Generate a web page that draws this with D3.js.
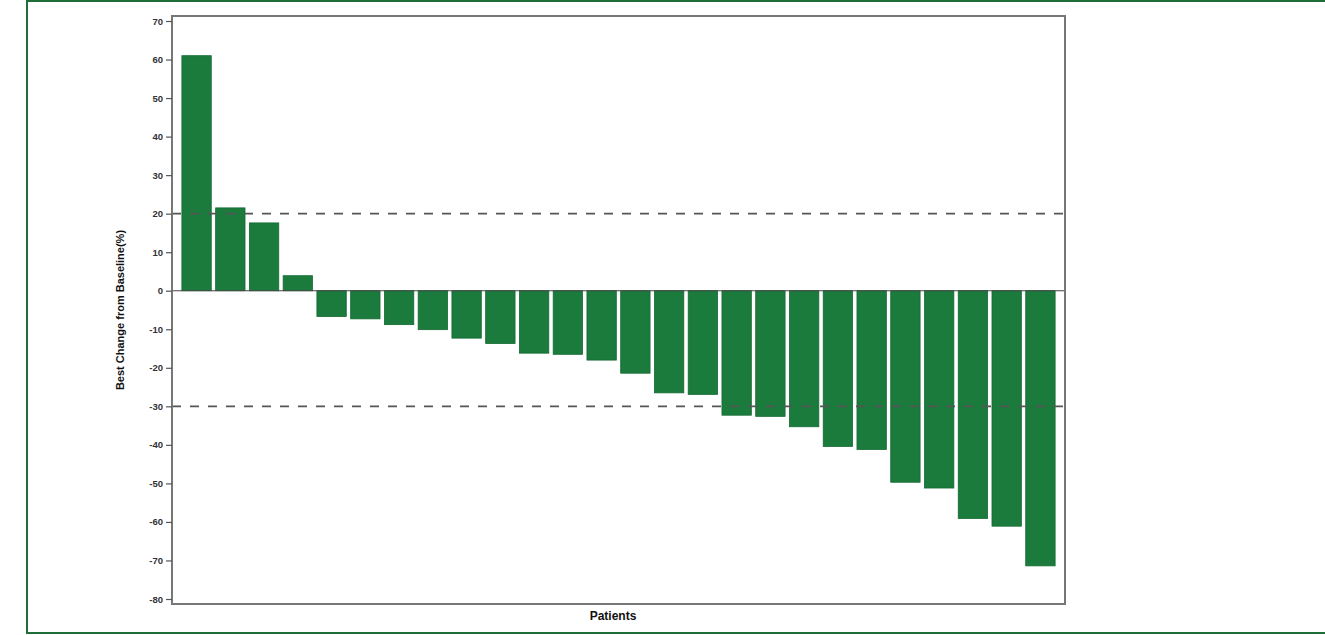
<!DOCTYPE html>
<html>
<head>
<meta charset="utf-8">
<script src="https://cdn.jsdelivr.net/npm/d3@7"></script>
<style>
  body { margin: 0; background: #fff; }
  svg { display: block; font-family: "Liberation Sans", Arial, sans-serif; }
</style>
</head>
<body>
<div id="chart"></div>
<script>
// Best change from baseline (%) per patient, sorted as in the waterfall
const patients = d3.range(1, 27).map(i => "P" + i);
const bestChange = [61, 21.5, 17.6, 3.9, -6.7, -7.3, -8.8, -10.1, -12.3, -13.7, -16.2, -16.5, -18.0,
  -21.4, -26.5, -26.9, -32.3, -32.6, -35.3, -40.4, -41.2, -49.7, -51.2, -59.1, -61.1, -71.4];
const yTicks = [70, 60, 50, 40, 30, 20, 10, 0, -10, -20, -30, -40, -50, -60, -70, -80];
const thresholds = [20, -30];

const data = patients.map((p, i) => ({ patient: p, value: bestChange[i] }));

const W = 1325, H = 635;
const margin = { top: 16, left: 172 };
const width = 893, height = 588;

const root = d3.select("#chart")
  .append("svg")
  .attr("width", W)
  .attr("height", H);

// outer green frame (no right edge in the original crop)
root.append("path")
  .attr("d", `M${W},1 H27 V633 H${W}`)
  .attr("fill", "none")
  .attr("stroke", "#1f6e3a")
  .attr("stroke-width", 2);

const svg = root.append("g")
  .attr("transform", `translate(${margin.left},${margin.top})`);

// scales
const x = d3.scaleBand()
  .domain(patients)
  .range([5.5, width - 5.5])
  .padding(0.13);

const y = d3.scaleLinear()
  .domain([-80, 70])
  .range([height - 5, 5]);

// bars
svg.selectAll("rect.bar")
  .data(data)
  .enter()
  .append("rect")
  .attr("class", "bar")
  .attr("x", d => x(d.patient))
  .attr("width", x.bandwidth())
  .attr("y", d => y(Math.max(0, d.value)))
  .attr("height", d => Math.abs(y(d.value) - y(0)))
  .attr("fill", "#1a7b3c")
  .attr("stroke", "#146a32")
  .attr("stroke-width", 0.8);

// zero line
svg.append("line")
  .attr("x1", 0).attr("x2", width)
  .attr("y1", y(0)).attr("y2", y(0))
  .attr("stroke", "#444")
  .attr("stroke-width", 1.2);

// threshold dashed lines
svg.selectAll("line.thr")
  .data(thresholds)
  .enter()
  .append("line")
  .attr("class", "thr")
  .attr("x1", 0).attr("x2", width)
  .attr("y1", d => y(d)).attr("y2", d => y(d))
  .attr("stroke", "#555")
  .attr("stroke-width", 1.6)
  .attr("stroke-dasharray", "9,9");

// frame
svg.append("rect")
  .attr("x", 0).attr("y", 0)
  .attr("width", width).attr("height", height)
  .attr("fill", "none")
  .attr("stroke", "#777")
  .attr("stroke-width", 2);

// y axis (plain hyphen for negatives, as in the original)
const yAxis = svg.append("g")
  .call(d3.axisLeft(y).tickValues(yTicks).tickSize(6).tickPadding(3).tickFormat(d => String(d)));
yAxis.select(".domain").remove();
yAxis.selectAll("line").attr("stroke", "#555").attr("stroke-width", 1.2);
yAxis.selectAll("text")
  .attr("fill", "#333")
  .style("font-size", "9.5px")
  .style("font-weight", "bold");

// axis labels
svg.append("text")
  .attr("transform", "rotate(-90)")
  .attr("x", -height / 2)
  .attr("y", -48)
  .attr("text-anchor", "middle")
  .style("font-size", "11px")
  .style("font-weight", "bold")
  .attr("fill", "#111")
  .text("Best Change from Baseline(%)");

svg.append("text")
  .attr("x", (613 - margin.left))
  .attr("y", height + 16)
  .attr("text-anchor", "middle")
  .style("font-size", "12px")
  .style("font-weight", "bold")
  .attr("fill", "#111")
  .text("Patients");
</script>
</body>
</html>
